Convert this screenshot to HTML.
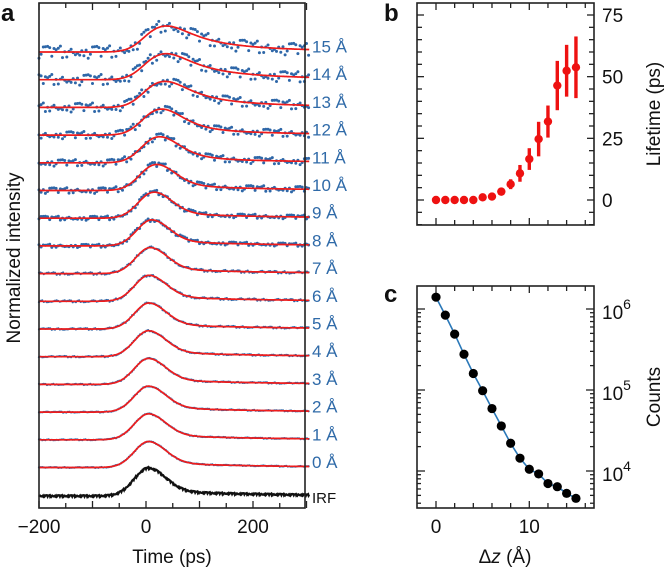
<!DOCTYPE html>
<html><head><meta charset="utf-8">
<style>
html,body{margin:0;padding:0;background:#fff;}
svg{display:block;font-family:"Liberation Sans",Arial,sans-serif;}
</style></head>
<body>
<svg id="fig" width="666" height="575" viewBox="0 0 666 575"></svg>
<script>
// ---------- data ----------
const deltaZ = [0,1,2,3,4,5,6,7,8,9,10,11,12,13,14,15];
const lifetimes = [0,0,0,0,0,1.1,1.4,3.4,6.4,10.8,16.6,24.7,31.8,46.4,52.4,53.8];
const lifetimeErr = [0.7,0.7,0.7,0.7,0.7,0.8,0.9,1.4,2,3.4,4.4,7,6.5,10,10.5,12.5];
const counts = [1.4e6,8.4e5,4.9e5,2.76e5,1.6e5,9.8e4,5.9e4,3.6e4,2.2e4,1.44e4,1.05e4,9.2e3,7.0e3,6.4e3,5.3e3,4.6e3];
const noiseAmp = [0.01,0.01,0.012,0.014,0.016,0.02,0.025,0.03,0.04,0.05,0.07,0.08,0.09,0.11,0.13,0.15];
const traceLabels = ["0 Å","1 Å","2 Å","3 Å","4 Å","5 Å","6 Å","7 Å","8 Å","9 Å","10 Å","11 Å","12 Å","13 Å","14 Å","15 Å"];
const timeTicks = [-200,0,200];
const lifeTicks = [0,25,50,75];
const zTicks = [0,10];
const jitter = [0.3,-0.8,0.9,-0.2,0.6,-1,0.1,0.7,-0.5,0.95,-0.35,0.45,-0.7,0.2,-0.9,0.8,-0.1,0.55,-0.6,0.05,0.85,-0.45,0.35];

const NS="http://www.w3.org/2000/svg";
const svg=document.getElementById('fig');
function el(tag,attrs,parent){const e=document.createElementNS(NS,tag);for(const k in attrs)e.setAttribute(k,attrs[k]);(parent||svg).appendChild(e);return e;}
function txt(s,attrs,parent){const e=el('text',attrs,parent);e.textContent=s;return e;}

// ---------- panel a ----------
const A={x0:39,x1:305,y0:3,y1:508};
const tx=t=>146+(t)*0.535;
const base=k=>468-27.7*k;
const H=26;
const gA=el('g',{});


function irf(t){const t0=5;if(t<t0)return Math.exp(-(t-t0)*(t-t0)/(2*27*27));
 return 0.8*Math.exp(-(t-t0)*(t-t0)/(2*32*32))+0.2*Math.exp(-(t-t0)/180);}
const tg=[];for(let t=-260;t<=305;t+=1)tg.push(t);
function model(tau){let out=tg.map(t=>irf(t));
 if(tau>0.5){const r=[];let acc=0;const d=Math.exp(-1/tau);for(let i=0;i<tg.length;i++){acc=acc*d+irf(tg[i]);r.push(acc);}out=r;}
 const m=Math.max(...out);return out.map(v=>v/m);}
// IRF
{const m=tg.map(t=>irf(t));const g=el('g',{},gA);
 let d='';tg.forEach((t,i)=>{if(t<-200)return;const y=496-28*(m[i]+0.03*jitter[(i*5)%23]);d+=(d?'L':'M')+tx(t).toFixed(1)+' '+y.toFixed(1);});
 el('path',{d:d,fill:'none',stroke:'#111','stroke-width':2.2},g);}
deltaZ.forEach((z,k)=>{
 const m=model(lifetimes[k]);const b=base(k);
 const g=el('g',{},gA);
 const step=k<8?3:4;
 const r=k<8?1.1:1.5;
 for(let i=0;i<tg.length;i+=step){const t=tg[i];if(t<-200)continue;
  const v=m[i]+0.02+noiseAmp[k]*jitter[(i*7+k*3)%23]*1.6;
  el('circle',{cx:tx(t).toFixed(1),cy:(b-H*v).toFixed(1),r:r,fill:'#2e67a8'},g);}
 let d='';tg.forEach((t,i)=>{if(t<-200)return;d+=(d?'L':'M')+tx(t).toFixed(1)+' '+(b-H*(m[i]+0.02)).toFixed(1);});
 const p=el('path',{d:d,fill:'none',stroke:'#ee1c1c','stroke-width':1.7},g);
 
 const l=txt(traceLabels[k],{x:312,y:b,'font-size':17,fill:'#2f6aa8'},gA);
 
});
{const l=txt('IRF',{x:312,y:503,'font-size':15,fill:'#111'},gA);}
el('rect',{x:A.x0,y:A.y0,width:A.x1-A.x0,height:A.y1-A.y0,fill:'none',stroke:'#222','stroke-width':1.6},gA);
for(let t=-200;t<=300;t+=50){const x=tx(t);const big=t%100===0?7:5;
 el('line',{x1:x,x2:x,y1:A.y1,y2:A.y1-big,stroke:'#222','stroke-width':1.3},gA);
 el('line',{x1:x,x2:x,y1:A.y0,y2:A.y0+big,stroke:'#222','stroke-width':1.3},gA);}
timeTicks.forEach(t=>{const l=txt(t<0?'−'+(-t):t,{x:tx(t),y:533,'font-size':19,'text-anchor':'middle',fill:'#111'},gA);});
{const l=txt('Time (ps)',{x:172,y:563,'font-size':19,'text-anchor':'middle',fill:'#111'},gA);}
{const l=txt('Normalized intensity',{x:0,y:0,'font-size':19,'text-anchor':'middle',fill:'#111',transform:'translate(20,258) rotate(-90)'},gA);}
{const l=txt('a',{x:1,y:21,'font-size':24,'font-weight':'bold',fill:'#111'},gA);}

// ---------- panel b ----------
const B={x0:417,x1:594,y0:3,y1:225};
const bx=z=>436+z*9.33;
const by=v=>200-v*(185/75);
const gB=el('g',{});
el('rect',{x:B.x0,y:B.y0,width:B.x1-B.x0,height:B.y1-B.y0,fill:'none',stroke:'#222','stroke-width':1.6},gB);
for(let z=0;z<=16;z+=2){const x=bx(z);el('line',{x1:x,x2:x,y1:B.y1,y2:B.y1-(z%10===0?7:5),stroke:'#222','stroke-width':1.3},gB);el('line',{x1:x,x2:x,y1:B.y0,y2:B.y0+(z%10===0?7:5),stroke:'#222','stroke-width':1.3},gB);}
for(let v=-10;v<=80;v+=5){const y=by(v);if(y<B.y0||y>B.y1)continue;const L=v%25===0?7:5;
 el('line',{x1:B.x1,x2:B.x1-L,y1:y,y2:y,stroke:'#222','stroke-width':1.3},gB);el('line',{x1:B.x0,x2:B.x0+L,y1:y,y2:y,stroke:'#222','stroke-width':1.3},gB);}
lifeTicks.forEach(v=>{const l=txt(v,{x:602,y:by(v)+7,'font-size':19,fill:'#111'},gB);});
deltaZ.forEach((z,k)=>{const x=bx(z);
 const e=el('line',{x1:x,x2:x,y1:by(lifetimes[k]-lifetimeErr[k]),y2:by(lifetimes[k]+lifetimeErr[k]),stroke:'#ee1111','stroke-width':3.4},gB);
 
 const c=el('circle',{cx:x,cy:by(lifetimes[k]),r:4.2,fill:'#ee1111'},gB);
 });
{const l=txt('Lifetime (ps)',{x:0,y:0,'font-size':19,'text-anchor':'middle',fill:'#111',transform:'translate(660,114) rotate(-90)'},gB);}
{const l=txt('b',{x:384,y:21,'font-size':24,'font-weight':'bold',fill:'#111'},gB);}

// ---------- panel c ----------
const C={x0:417,x1:594,y0:286,y1:508};
const cx=z=>436+z*9.33;
const cy=v=>309+(6-Math.log10(v))*81;
const gC=el('g',{});
el('rect',{x:C.x0,y:C.y0,width:C.x1-C.x0,height:C.y1-C.y0,fill:'none',stroke:'#222','stroke-width':1.6},gC);
for(let z=0;z<=16;z+=2){const x=cx(z);el('line',{x1:x,x2:x,y1:C.y1,y2:C.y1-(z%10===0?7:5),stroke:'#222','stroke-width':1.3},gC);el('line',{x1:x,x2:x,y1:C.y0,y2:C.y0+(z%10===0?7:5),stroke:'#222','stroke-width':1.3},gC);}
for(let e=3;e<=6;e++)for(let m=1;m<=9;m++){const y=cy(m*Math.pow(10,e));if(y<C.y0||y>C.y1)continue;const L=m===1?8:4;
 el('line',{x1:C.x1,x2:C.x1-L,y1:y,y2:y,stroke:'#222','stroke-width':1.3},gC);el('line',{x1:C.x0,x2:C.x0+L,y1:y,y2:y,stroke:'#222','stroke-width':1.3},gC);}
[4,5,6].forEach(e=>{const t=txt('10',{x:602,y:cy(Math.pow(10,e))+10,'font-size':19,fill:'#111'},gC);
 const s=el('tspan',{dy:-10,'font-size':14},t);s.textContent=e;
 });
{let d='';deltaZ.forEach((z,k)=>{d+=(k?'L':'M')+cx(z).toFixed(1)+' '+cy(counts[k]).toFixed(1);});
 const p=el('path',{d:d,fill:'none',stroke:'#2a78b8','stroke-width':1.6},gC);}
deltaZ.forEach((z,k)=>{const c=el('circle',{cx:cx(z),cy:cy(counts[k]),r:4.6,fill:'#000'},gC);});
zTicks.forEach(z=>{const l=txt(z,{x:cx(z),y:533,'font-size':19,'text-anchor':'middle',fill:'#111'},gC);});
{const t=el('text',{x:505,y:563,'font-size':19,'text-anchor':'middle',fill:'#111'},gC);
 const a=el('tspan',{},t);a.textContent='Δ';const b=el('tspan',{'font-style':'italic'},t);b.textContent='z';const c=el('tspan',{},t);c.textContent=' (Å)';
 }
{const l=txt('Counts',{x:0,y:0,'font-size':19,'text-anchor':'middle',fill:'#111',transform:'translate(660,397) rotate(-90)'},gC);}
{const l=txt('c',{x:384,y:302,'font-size':24,'font-weight':'bold',fill:'#111'},gC);}
</script>
</body></html>
